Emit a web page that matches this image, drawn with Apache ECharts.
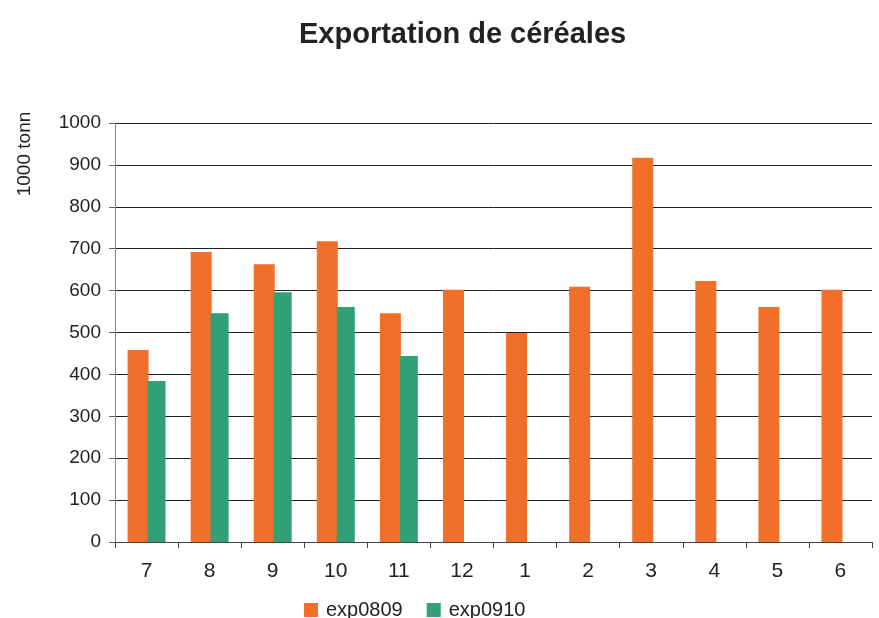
<!DOCTYPE html>
<html>
<head>
<meta charset="utf-8">
<script src="https://cdn.jsdelivr.net/npm/echarts@6/dist/echarts.min.js"></script>
<style>
  html, body { margin: 0; padding: 0; background: #fff; }
  #chart { width: 879px; height: 618px; }
</style>
</head>
<body>
<div id="chart"></div>
<script>
// mois (campagne juillet - juin)
const months = ['7', '8', '9', '10', '11', '12', '1', '2', '3', '4', '5', '6'];
// exportations en 1000 tonnes
const exp0809 = [458, 692, 663, 718, 546, 602, 499, 609, 917, 623, 561, 602];
const exp0910 = [384, 546, 596, 561, 444, null, null, null, null, null, null, null];

const yTicks = { min: 0, max: 1000, interval: 100 };

let myChart = echarts.init(document.getElementById('chart'));

let font = '"Liberation Sans", Arial, sans-serif';

let option = {
  animation: false,
  color: ['#F26E2B', '#31A076'],
  title: {
    text: 'Exportation de céréales',
    left: 294,
    top: 15,
    textStyle: {
      fontFamily: font,
      fontSize: 29,
      fontWeight: 'bold',
      color: '#222'
    }
  },
  // titre de l'axe y, tourné
  graphic: [{
    type: 'text',
    x: 25,
    y: 154,
    rotation: Math.PI / 2,
    style: {
      text: '1000 tonn',
      fontFamily: font,
      fontSize: 19,
      fill: '#222',
      align: 'center',
      verticalAlign: 'middle'
    }
  }],
  legend: {
    top: 600,
    left: 304,
    padding: 0,
    itemWidth: 14,
    itemHeight: 14,
    itemGap: 24,
    icon: 'rect',
    textStyle: {
      fontFamily: font,
      fontSize: 20,
      color: '#222',
      padding: [0, 0, 0, 3]
    }
  },
  grid: {
    left: 115,
    right: 7,
    top: 123,
    bottom: 76
  },
  xAxis: {
    type: 'category',
    data: months,
    axisLine: { lineStyle: { color: '#444', width: 1 } },
    axisTick: { show: true, length: 6, lineStyle: { color: '#444' } },
    axisLabel: {
      fontFamily: font,
      fontSize: 21,
      color: '#222',
      margin: 19
    }
  },
  yAxis: {
    type: 'value',
    min: yTicks.min,
    max: yTicks.max,
    interval: yTicks.interval,
    axisLine: { show: true, lineStyle: { color: '#888', width: 1 } },
    axisTick: { show: true, length: 6, lineStyle: { color: '#666' } },
    axisLabel: {
      fontFamily: font,
      fontSize: 19,
      color: '#222',
      margin: 14,
      formatter: function (v) { return String(v); }
    },
    splitLine: { lineStyle: { color: '#222', width: 1 } }
  },
  series: [
    {
      name: 'exp0809',
      type: 'bar',
      data: exp0809,
      barWidth: 21,
      barGap: '-5%'
    },
    {
      name: 'exp0910',
      type: 'bar',
      data: exp0910,
      barWidth: 18
    }
  ]
};

myChart.setOption(option);
window.addEventListener('resize', function () {
  myChart.resize();
});
</script>
</body>
</html>
